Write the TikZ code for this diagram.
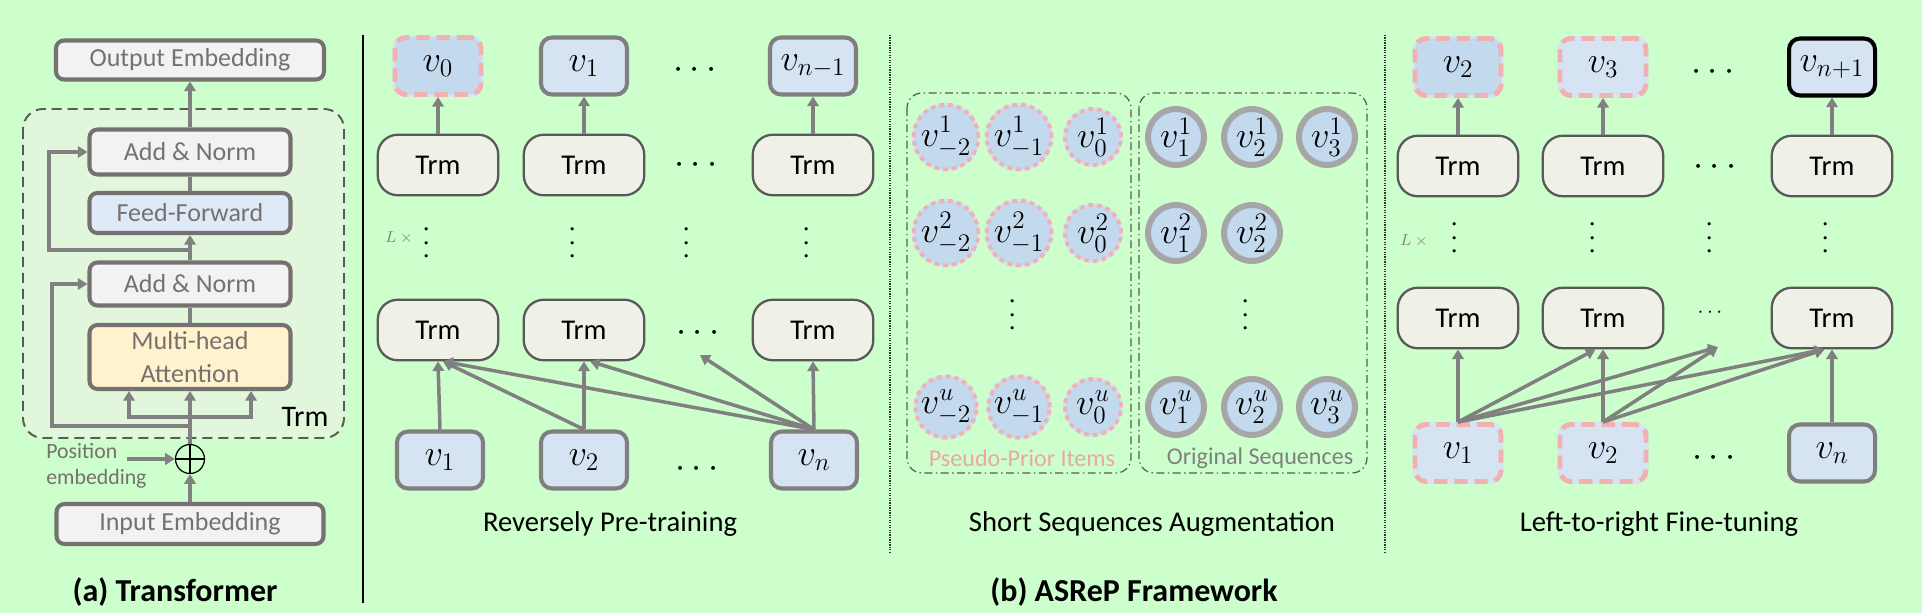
\documentclass[tikz,border=0pt]{standalone}
\usepackage[no-math]{fontspec}
\setmainfont{Carlito}
\usetikzlibrary{arrows.meta,positioning,calc}

\definecolor{bgc}{HTML}{CCFFCC}
\definecolor{framefill}{HTML}{E2F6DC}
\definecolor{framec}{HTML}{595959}
\definecolor{gfill}{HTML}{F2F2F2}
\definecolor{gline}{HTML}{767171}
\definecolor{ffill}{HTML}{DEEBF7}
\definecolor{mfill}{HTML}{FFF2CC}
\definecolor{trmfill}{HTML}{EFF0E6}
\definecolor{trmline}{HTML}{595959}
\definecolor{arrc}{HTML}{808080}
\definecolor{vfill}{HTML}{D5E3F3}
\definecolor{vfilldk}{HTML}{C3D9EE}
\definecolor{vline}{HTML}{7F7F7F}
\definecolor{pinkc}{HTML}{F2B1B1}
\definecolor{pinktext}{HTML}{EFA5A5}
\definecolor{ocline}{HTML}{A6A6A6}
\definecolor{seqtext}{HTML}{7F7F7F}

\tikzset{
  arr/.style={draw=arrc, line width=2pt, -{Triangle[length=5.5pt,width=6.5pt]}},
  link/.style={draw=arrc, line width=2pt},
  gbox/.style={draw=gline, fill=gfill, line width=2.3pt, rounded corners=1.6mm, text=gline,
    font=\fontsize{14.8}{18.5}\selectfont, inner sep=0pt, minimum width=40.2mm, align=center},
  trmnode/.style={draw=trmline, fill=trmfill, line width=1.3pt, rounded corners=4mm,
    minimum width=24.1mm, minimum height=12.1mm, inner sep=0pt, font=\fontsize{16.3}{18}\selectfont},
  vnode/.style={draw=vline, fill=vfill, line width=2.3pt, rounded corners=2.2mm,
    minimum width=17.2mm, minimum height=11.4mm, inner sep=0pt, font=\fontsize{20.74}{24}\selectfont},
  vpink/.style={vnode, draw=pinkc, line width=2.8pt, dash pattern=on 7.5pt off 4pt,
    preaction={draw=vfill, line width=2.8pt, solid}},
  vgoal/.style={vnode, draw=black},
  pcirc/.style={circle, fill=vfilldk, draw=pinkc, line width=2.2pt, dash pattern=on 2.6pt off 2.4pt,
    preaction={draw=vfill, line width=2.2pt, solid},
    minimum size=11.2mm, inner sep=0pt, font=\fontsize{20.74}{24}\selectfont},
  ocirc/.style={circle, fill=vfilldk, draw=ocline, line width=3.4pt,
    minimum size=11.2mm, inner sep=0pt, font=\fontsize{20.74}{24}\selectfont},
  hdot/.style={inner sep=0pt, font=\fontsize{20.74}{24}\selectfont},
  vdot/.style={hdot, rotate=90, font=\fontsize{17.28}{20}\selectfont},
  ltimes/.style={text=seqtext, font=\fontsize{9}{10}\selectfont},
  caption/.style={font=\fontsize{16.3}{18}\selectfont},
  subtitle/.style={font=\bfseries\fontsize{18.2}{20}\selectfont},
  group/.style={draw=framec, line width=0.7pt, rounded corners=3mm,
    dash pattern=on 4.5pt off 2pt on 0.8pt off 2pt},
  sep/.style={draw=black!80, line width=1pt, dash pattern=on 0.7pt off 0.7pt}
}

\begin{document}
\begin{tikzpicture}[x=0.2mm, y=-0.2mm]
  \useasboundingbox (0,0) rectangle (1922,613);
  \fill[bgc] (0,0) rectangle (1922,613);

  % (a) Transformer
  \draw[framec, fill=framefill, line width=1.1pt, rounded corners=4mm,
        dash pattern=on 5.7pt off 3.4pt] (23,109) rectangle (344,438);
  \node[gbox, minimum width=53.6mm, minimum height=7.8mm] (outemb) at (190,60) {Output Embedding};
  \node[gbox, minimum height=9mm] (an1) at (190,152) {Add \& Norm};
  \node[gbox, fill=ffill, minimum height=8mm] (ff) at (190,213) {Feed-Forward};
  \node[gbox, minimum height=8.6mm] (an2) at (190,284) {Add \& Norm};
  \node[gbox, fill=mfill, minimum height=12.8mm] (mha) at (190,357) {Multi-head\\Attention};
  \node[font=\fontsize{17}{19}\selectfont] (trmlbl) at (305,417) {Trm};
  \node[circle, draw=black, line width=0.7pt, minimum size=5.8mm, inner sep=0pt,
        path picture={\draw[line width=0.7pt] (path picture bounding box.north) -- (path picture bounding box.south)
                      (path picture bounding box.west) -- (path picture bounding box.east);}] (plus) at (190,459) {};
  \node[anchor=west, align=left, text=gline, font=\fontsize{12.4}{14.8}\selectfont, inner sep=0pt] (posemb) at (46,466) {Position\\embedding};
  \node[gbox, minimum width=53.4mm, minimum height=8mm] (inemb) at (190,524) {Input Embedding};
  \node[subtitle] (capa) at (175,592) {(a) Transformer};

  \coordinate (res1) at (190,250);
  \coordinate (res2) at (190,426);
  \coordinate (split) at (190,417);
  \coordinate (pestart) at (127,459);
  \draw[arr] (an1.north) -- (outemb.south);
  \draw[link] (ff.north) -- (an1.south);
  \draw[arr] (an2.north) -- (ff.south);
  \draw[link] (mha.north) -- (an2.south);
  \draw[arr] (plus.north) -- (mha.south);
  \draw[arr] (split) -| ([xshift=-12.2mm]mha.south);
  \draw[arr] (split) -| ([xshift=12.2mm]mha.south);
  \draw[arr] (res1) -- ++(-141,0) |- (an1.west);
  \draw[arr] (res2) -- ++(-138,0) |- (an2.west);
  \draw[arr] (inemb.north) -- (plus.south);
  \draw[arr] (pestart) -- (plus.west);

  \draw[line width=1.1pt] (363,35) -- (363,603);

  % Reversely pre-training
  \node[vpink, fill=vfilldk] (ot0) at (438,66) {$v_0$};
  \node[vnode] (ot1) at (584,66) {$v_1$};
  \node[vnode] (otn) at (813,66) {$v_{n-1}$};
  \foreach \n/\x in {0/438,1/584,n/813} {
    \node[trmnode] (ta\n) at (\x,165) {Trm};
    \node[trmnode] (tb\n) at (\x,330) {Trm};
    \draw[arr] (ta\n.north) -- (ot\n.south);
  }
  \node[vnode] (in1) at (440,460) {$v_1$};
  \node[vnode] (in2) at (584,460) {$v_2$};
  \node[vnode] (inn) at (814,460) {$v_n$};
  \node[hdot] (md1) at (695,70) {$\cdots$};
  \node[hdot] (md2) at (696,165) {$\cdots$};
  \node[hdot] (md3) at (698,333) {$\cdots$};
  \node[hdot] (md4) at (697,469) {$\cdots$};
  \foreach \x in {427,573,687,807} \node[vdot] (mv\x) at (\x,243) {$\cdots$};
  \node[ltimes] (mlx) at (399,238) {$L\mskip4mu\times$};
  \coordinate (pdots) at (700,355);
  \draw[arr] (in1.north) -- (tb0.south);
  \draw[arr] (in2.north) -- (tb1.south);
  \draw[arr] (inn.north) -- (tbn.south);
  \draw[arr] (in2.north) -- ([xshift=1mm]tb0.south);
  \draw[arr] (inn.north) -- ([xshift=1mm]tb0.south);
  \draw[arr] (inn.north) -- ([xshift=1.2mm]tb1.south);
  \draw[arr] (inn.north) -- (pdots);
  \node[caption] (capre) at (610,524) {Reversely Pre-training};

  \draw[sep] (890,35) -- (890,553);

  % Short sequences augmentation
  \draw[group] (907,93) rectangle (1131,473);
  \draw[group] (1139,93) rectangle (1367,473);
  \foreach \r/\y in {1/137,2/233,u/407} {
    \node[pcirc] (p\r a) at (946,\y) {$v^{\r}_{-2}$};
    \node[pcirc] (p\r b) at (1019,\y) {$v^{\r}_{-1}$};
    \node[pcirc] (p\r c) at (1093,\y) {$v^{\r}_{0}$};
    \node[ocirc] (o\r a) at (1176,\y) {$v^{\r}_{1}$};
    \node[ocirc] (o\r b) at (1252,\y) {$v^{\r}_{2}$};
  }
  \node[ocirc] (o1c) at (1327,137) {$v^{1}_{3}$};
  \node[ocirc] (ouc) at (1327,407) {$v^{u}_{3}$};
  \node[vdot] (pvd) at (1013,315) {$\cdots$};
  \node[vdot] (ovd) at (1246,315) {$\cdots$};
  \node[text=pinktext, font=\fontsize{13.7}{15}\selectfont] (pplbl) at (1022,458) {Pseudo-Prior Items};
  \node[text=seqtext, font=\fontsize{13.7}{15}\selectfont] (oslbl) at (1260,458) {Original Sequences};
  \node[caption] (capaug) at (1152,524) {Short Sequences Augmentation};

  \draw[sep] (1385,35) -- (1385,553);

  % Left-to-right fine-tuning
  \node[vpink, fill=vfilldk] (fo2) at (1458,67) {$v_2$};
  \node[vpink] (fo3) at (1603,67) {$v_3$};
  \node[vgoal] (fon) at (1832,67) {$v_{n+1}$};
  \foreach \n/\x in {2/1458,3/1603,n/1832} {
    \node[trmnode] (fa\n) at (\x,166) {Trm};
    \node[trmnode] (fb\n) at (\x,318) {Trm};
    \draw[arr] (fa\n.north) -- (fo\n.south);
  }
  \node[vpink] (fi1) at (1458,453) {$v_1$};
  \node[vpink] (fi2) at (1603,453) {$v_2$};
  \node[vnode] (fin) at (1832,453) {$v_n$};
  \node[hdot] (fd1) at (1713,72) {$\cdots$};
  \node[hdot] (fd2) at (1715,167) {$\cdots$};
  \node[hdot, font=\fontsize{12}{14}\selectfont] (fd3) at (1710,313) {$\cdots$};
  \node[hdot] (fd4) at (1714,458) {$\cdots$};
  \foreach \x in {1455,1593,1710,1826} \node[vdot] (fv\x) at (\x,238) {$\cdots$};
  \node[ltimes] (flx) at (1414,241) {$L\mskip4mu\times$};
  \coordinate (fdots) at (1718,347);
  \draw[arr] (fi1.north) -- (fb2.south);
  \draw[arr] (fi2.north) -- (fb3.south);
  \draw[arr] (fin.north) -- (fbn.south);
  \draw[arr] (fi1.north) -- ([xshift=-1.5mm]fb3.south);
  \draw[arr] (fi1.north) -- (fdots);
  \draw[arr] (fi1.north) -- ([xshift=-1.5mm]fbn.south);
  \draw[arr] (fi2.north) -- (fdots);
  \draw[arr] (fi2.north) -- ([xshift=-1.5mm]fbn.south);
  \node[caption] (capft) at (1659,524) {Left-to-right Fine-tuning};

  \node[subtitle] (capb) at (1134,592) {(b) ASReP Framework};
\end{tikzpicture}
\end{document}
